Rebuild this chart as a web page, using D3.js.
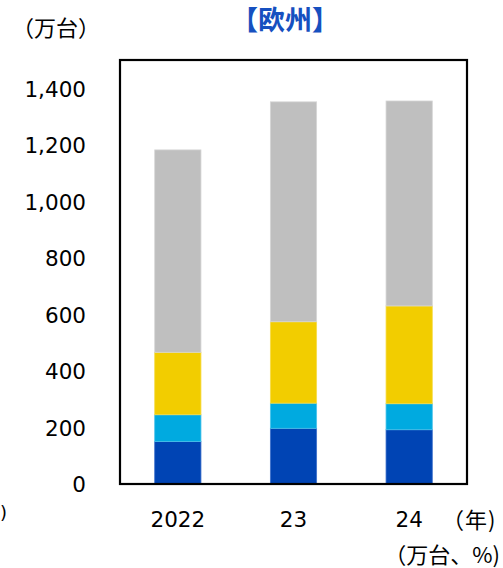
<!DOCTYPE html>
<html>
<head>
<meta charset="utf-8">
<script src="https://cdn.jsdelivr.net/npm/d3@7"></script>
<style>
  html, body { margin: 0; padding: 0; background: #fff; }
  svg { display: block; }
  text { font-family: "DejaVu Sans", Verdana, "Noto Sans CJK JP", sans-serif; fill: #000; }
  .jp { font-family: "Noto Sans CJK JP", sans-serif; }
</style>
</head>
<body>
<svg id="chart" width="503" height="568"></svg>
<script>
// Yearly volumes (万台), stacked from the bottom segment upward
const years = ["2022", "23", "24"];
const seriesKeys = ["s1", "s2", "s3", "s4"];
const s1 = [150, 197, 192];
const s2 = [95, 89, 92];
const s3 = [221, 288, 346];
const s4 = [716, 778, 725];
const colors = ["#0044b4", "#00aae0", "#f2cd00", "#bfbfbf"];
const edgeColors = ["#3f72cc", "#4cc3ea", "#f6dc4c", "#d6d6d6"];
const yTicks = [0, 200, 400, 600, 800, 1000, 1200, 1400];
const yMax = 1500;

const svg = d3.select("#chart");
const plot = { left: 120, right: 467, top: 60, bottom: 484 };

const rows = years.map((y, i) => ({ year: y, s1: s1[i], s2: s2[i], s3: s3[i], s4: s4[i] }));
const stacked = d3.stack().keys(seriesKeys)(rows);

const x = d3.scaleBand().domain(years).range([plot.left, plot.right]).paddingInner(0.6).paddingOuter(0.3);
const y = d3.scaleLinear().domain([0, yMax]).range([plot.bottom, plot.top]);

// Stacked bars
svg.append("g").selectAll("g").data(stacked).join("g")
  .attr("fill", (d, i) => colors[i])
  .attr("stroke", (d, i) => edgeColors[i])
  .attr("stroke-width", 0.8)
  .selectAll("rect").data(d => d).join("rect")
  .attr("x", d => x(d.data.year))
  .attr("width", x.bandwidth())
  .attr("y", d => y(d[1]))
  .attr("height", d => y(d[0]) - y(d[1]));

// Plot frame
svg.append("rect")
  .attr("x", plot.left).attr("y", plot.top)
  .attr("width", plot.right - plot.left).attr("height", plot.bottom - plot.top)
  .attr("fill", "none").attr("stroke", "#000").attr("stroke-width", 2.2);

// Y axis labels
const yAxis = d3.axisLeft(y).tickValues(yTicks).tickSize(0).tickPadding(34)
  .tickFormat(d3.format(","));
const gy = svg.append("g").attr("transform", `translate(${plot.left},1)`).call(yAxis);
gy.select(".domain").remove();
gy.selectAll("text").attr("font-size", 21.5).attr("font-family", "DejaVu Sans, Verdana, sans-serif").attr("fill", "#1a1a1a");

// X axis labels
const xAxis = d3.axisBottom(x).tickSize(0).tickPadding(28);
const gx = svg.append("g").attr("transform", `translate(0,${plot.bottom})`).call(xAxis);
gx.select(".domain").remove();
gx.selectAll("text").attr("font-size", 21.5).attr("font-family", "DejaVu Sans, Verdana, sans-serif").attr("fill", "#1a1a1a");

// Titles and unit notes
svg.append("text").attr("class", "jp").attr("x", 285).attr("y", 30)
  .attr("text-anchor", "middle").attr("font-size", 27).attr("font-weight", "bold")
  .style("fill", "#1650c0").text("【欧州】");
svg.append("text").attr("class", "jp").attr("x", 12).attr("y", 36)
  .attr("font-size", 22).text("（万台）");
svg.append("text").attr("class", "jp").attr("x", 442).attr("y", 528)
  .attr("font-size", 22).attr("letter-spacing", 1).text("（年)");
svg.append("text").attr("class", "jp").attr("x", 500).attr("y", 563)
  .attr("text-anchor", "end").attr("font-size", 22).text("（万台、%)");
svg.append("text").attr("x", 0).attr("y", 519)
  .attr("font-size", 18).text(")");
</script>
</body>
</html>
